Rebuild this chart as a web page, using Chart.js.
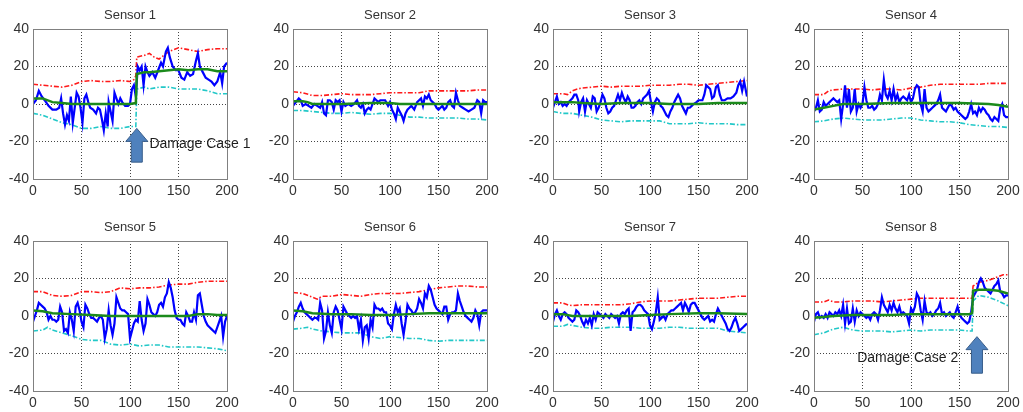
<!DOCTYPE html>
<html>
<head>
<meta charset="utf-8">
<script src="https://cdn.jsdelivr.net/npm/chart.js@4.4.0/dist/chart.umd.min.js"></script>
<style>
	html, body { margin: 0; padding: 0; background: #fff; overflow: hidden; }
	body { width: 1023px; height: 412px; position: relative; }
	.panel { position: absolute; }
</style>
</head>
<body>
<script>
// --- axes ---
const xTicks = [0, 50, 100, 150, 200];
const yTicks = [-40, -20, 0, 20, 40];
const sensorTitles = ["Sensor 1", "Sensor 2", "Sensor 3", "Sensor 4", "Sensor 5", "Sensor 6", "Sensor 7", "Sensor 8"];

// --- Sensor 1 ---
const s1Signal = [[0,0],[3,2],[6,7],[9,4],[12,2],[16,-1],[20,-3],[24,-3],[27,-2],[29,3],[31,-5],[33,-11],[35,-6],[37,-9],[39,4],[41,-10],[43,-2],[45,6],[47,4],[49,-2],[51,-10],[53,3],[55,5],[57,1],[59,-2],[62,-3],[65,-5],[67,-2],[69,-3],[71,-8],[73,-14],[75,-5],[77,-12],[78,1],[80,-4],[82,-9],[84,6],[86,3],[88,0],[90,3],[92,1],[95,-1],[98,-1],[100,0],[102,8],[104,10],[106,4],[107,12],[108,20],[110,18],[112,20],[114,10],[116,20],[118,17],[120,15],[123,17],[126,14],[129,18],[132,22],[134,20],[137,28],[139,30],[141,25],[144,20],[147,18],[150,18],[153,14],[156,13],[159,17],[162,15],[165,16],[168,23],[170,27],[172,20],[175,17],[178,14],[181,13],[184,12],[187,10],[190,12],[193,17],[195,11],[197,20],[200,22]];
const s1Upper = [[0,10.5],[10,10],[20,9.5],[30,9],[40,10],[50,12],[60,12.5],[70,12],[80,12],[90,12.5],[100,12],[104,13],[106,15],[107,25],[115,26],[120,27],[125,25],[130,24],[140,28],[150,30],[160,29],[170,28],[180,29],[190,29.5],[200,29.5]];
const s1Lower = [[0,-5],[10,-6],[20,-8],[30,-10],[40,-11],[50,-13],[60,-13],[70,-12],[80,-13],[90,-13],[100,-12],[106,-12],[107,8],[115,9],[120,8],[130,9],[140,9],[150,8],[160,8],[170,8],[180,7],[190,5.5],[200,5.5]];
const s1Mean = [[0,3],[10,3],[20,1],[30,0.5],[40,0],[60,0],[80,0],[100,0],[106,0.5],[107,16],[115,17],[120,17],[130,17.5],[140,18],[150,18.5],[160,18],[170,18.5],[180,18.5],[190,17.5],[200,17.5]];

// --- Sensor 2 ---
const s2Signal = [[0,-1],[3,1],[6,3],[8,2],[10,-1],[13,0],[16,-1],[19,-2],[22,0],[25,-1],[28,-2],[30,1],[32,-5],[34,-6],[36,2],[38,2],[40,1],[42,-3],[44,2],[46,1],[48,2],[50,-4],[52,1],[54,-1],[57,0],[60,-1],[63,0],[66,2],[68,-1],[70,-2],[72,0],[74,-5],[76,-3],[78,-2],[80,-3],[82,0],[84,3],[86,2],[88,1],[90,2],[92,2],[95,2],[98,-1],[100,1],[102,-3],[104,-5],[106,-8],[108,-2],[110,-4],[112,-6],[114,-9],[116,-5],[118,-3],[120,-2],[122,-1],[125,-3],[128,1],[130,2],[132,3],[134,-1],[136,4],[138,3],[140,5],[142,2],[144,1],[146,0],[148,-2],[150,-3],[152,-2],[154,-1],[156,-3],[158,-2],[160,1],[162,2],[164,-1],[166,-2],[168,6],[170,2],[172,-1],[175,-2],[178,-3],[181,-4],[184,-3],[187,-2],[190,2],[192,1],[194,-5],[196,2],[198,1],[200,1]];
const s2Upper = [[0,6.5],[10,6],[20,4.5],[30,4.5],[40,5],[50,5.5],[60,5],[70,5],[80,5],[90,5.5],[100,6],[110,6],[120,6],[130,6],[140,7],[150,7],[160,7],[170,7],[180,7],[190,7.5],[200,7.5]];
const s2Lower = [[0,-3.5],[10,-3.5],[20,-4],[30,-4.5],[40,-5],[50,-5],[60,-4.5],[70,-5],[80,-5.5],[90,-5],[100,-5],[110,-6],[120,-7],[130,-7],[140,-7.5],[150,-7.5],[160,-7.5],[170,-7.5],[180,-8],[190,-8],[200,-8.5]];
const s2Mean = [[0,1.5],[10,1.5],[15,1],[20,0],[50,0],[80,0.5],[100,0.5],[110,0],[150,0],[200,0]];

// --- Sensor 3 ---
const s3Signal = [[0,-2],[2,1],[4,4],[6,0],[8,1],[10,-1],[12,0],[14,-1],[16,1],[18,2],[20,3],[22,5],[24,5],[26,2],[27,-4],[29,1],[31,3],[33,-4],[35,2],[37,0],[39,-2],[41,4],[43,3],[45,-4],[47,-2],[49,1],[51,5],[53,3],[55,-2],[57,-5],[59,-4],[61,-2],[63,-1],[65,2],[67,5],[69,2],[71,6],[73,3],[75,1],[77,4],[79,2],[81,-2],[83,-2],[85,-1],[87,1],[89,2],[91,0],[93,3],[95,4],[97,5],[99,7],[101,1],[103,-4],[105,1],[107,3],[109,2],[111,-1],[113,-2],[115,-4],[117,-6],[119,-7],[121,-4],[123,-2],[125,1],[127,3],[129,5],[131,3],[133,-1],[135,-3],[137,-5],[139,-2],[141,-2],[143,-1],[145,0],[148,1],[150,2],[152,2],[154,2],[156,5],[158,10],[160,9],[162,8],[164,3],[166,4],[168,9],[170,10],[172,5],[174,2],[177,2],[180,3],[183,3],[186,4],[189,6],[191,10],[193,12],[195,7],[197,12],[200,4]];
const s3Upper = [[0,5.5],[10,5.5],[15,5],[20,7],[25,8],[30,8.5],[40,9],[50,9.5],[60,9],[70,9.5],[80,9.5],[90,9.5],[100,10],[110,10],[120,10],[130,10.5],[140,10.5],[150,10],[160,10.5],[170,11],[180,11.5],[190,12],[200,12.5]];
const s3Lower = [[0,-4],[10,-5],[20,-5],[30,-6],[40,-7],[50,-8.5],[60,-9],[70,-9.5],[80,-9],[90,-9],[100,-9],[110,-9],[120,-10.5],[130,-10.5],[140,-10.5],[150,-10],[160,-10.5],[170,-10.5],[180,-10.5],[190,-11],[200,-11]];
const s3Mean = [[0,1],[20,1],[30,0.5],[50,0],[70,0.5],[100,0.5],[120,0],[150,0],[170,0.5],[200,0.5]];

// --- Sensor 4 ---
const s4Signal = [[0,-4],[2,-2],[4,2],[6,-4],[8,-3],[10,1],[12,-1],[14,0],[16,1],[18,2],[20,3],[22,2],[24,1],[26,2],[28,-8],[30,0],[32,10],[34,-2],[36,8],[38,-4],[40,-2],[42,8],[44,-4],[46,0],[48,-2],[50,0],[52,9],[54,2],[56,-2],[58,-2],[60,-1],[62,-3],[64,-2],[66,0],[68,5],[70,2],[72,13],[74,5],[76,3],[78,7],[80,2],[82,8],[84,2],[86,5],[88,1],[90,3],[92,4],[94,3],[96,2],[98,5],[100,1],[102,3],[104,8],[106,10],[108,9],[110,0],[112,-4],[114,8],[116,-2],[118,-4],[120,-3],[122,-2],[124,-1],[126,0],[128,2],[130,5],[132,-2],[134,-3],[136,-4],[138,-2],[140,0],[142,-1],[144,-3],[146,-2],[148,-4],[150,-5],[152,-6],[154,-7],[156,-8],[158,-7],[160,-4],[162,0],[164,-5],[166,-4],[168,-6],[170,-2],[172,-4],[174,-2],[176,-3],[178,-5],[180,-6],[182,-8],[184,-9],[186,-7],[188,-8],[190,-9],[192,-2],[194,0],[196,-6],[198,-7],[200,-7]];
const s4Upper = [[0,5],[10,5],[15,7],[20,7.5],[30,8],[40,8],[50,8],[60,7.5],[70,8],[80,8],[90,7.5],[100,8.5],[110,9],[120,10],[130,10.5],[140,10.5],[150,10.5],[160,10.5],[170,10.5],[180,11],[190,11],[200,11]];
const s4Lower = [[0,-9.5],[10,-9],[20,-8],[30,-7.5],[40,-8],[50,-8.5],[60,-8.5],[70,-8.5],[80,-8],[90,-7.5],[100,-7.5],[110,-8.5],[120,-9],[130,-9.5],[140,-9.5],[150,-10],[160,-11],[170,-11.5],[180,-12],[190,-12],[200,-12.5]];
const s4Mean = [[0,-3],[10,-2],[20,-1],[30,0],[50,0],[80,0.5],[100,0.5],[150,0.5],[180,0],[190,-0.5],[200,-1.5]];

// --- Sensor 5 ---
const s5Signal = [[0,-3],[2,0],[4,3],[6,7],[8,6],[10,5],[12,4],[14,2],[16,-2],[18,0],[20,-2],[22,-2],[24,-3],[26,-2],[28,5],[30,2],[32,-8],[34,-7],[36,-9],[38,2],[40,-2],[42,-8],[44,5],[46,7],[48,3],[50,-3],[52,-6],[54,6],[56,4],[58,1],[60,-1],[62,-1],[64,-2],[66,-3],[68,-1],[70,0],[72,-2],[74,-12],[76,-7],[78,3],[80,-5],[82,-10],[84,-4],[86,10],[88,7],[90,4],[92,3],[94,3],[96,2],[98,1],[100,-12],[102,-8],[104,-4],[106,-2],[108,-3],[110,8],[112,-2],[114,-8],[116,-4],[118,9],[120,6],[122,2],[124,1],[126,0],[128,2],[130,6],[132,7],[134,5],[136,10],[138,12],[140,18],[142,15],[144,10],[146,3],[148,-1],[150,-2],[152,-2],[154,-4],[156,-5],[158,2],[160,0],[162,-3],[164,-3],[166,2],[168,-2],[170,11],[172,12],[174,6],[176,0],[178,-3],[180,-5],[182,-6],[184,-7],[186,-8],[188,-9],[190,-6],[192,-3],[194,0],[196,-11],[198,-3],[200,0]];
const s5Upper = [[0,13],[10,13],[20,11],[30,10.5],[40,11],[50,13],[60,13],[70,12.5],[80,13],[90,15],[100,14.5],[110,15],[120,15],[130,15.5],[140,16.5],[150,17],[160,17],[170,18],[180,18.5],[190,18.5],[200,18.5]];
const s5Lower = [[0,-8],[10,-7.5],[15,-6],[20,-7.5],[30,-9],[40,-10.5],[50,-12.5],[60,-13],[70,-13],[80,-15],[90,-15.5],[100,-15],[110,-16],[120,-15.5],[130,-15.5],[140,-16.5],[150,-16.5],[160,-16.5],[170,-16.5],[180,-17],[190,-17.5],[200,-18.5]];
const s5Mean = [[0,3],[10,2.5],[20,1.5],[40,1],[60,0.5],[80,0],[100,0],[130,0],[160,0],[170,1],[180,1],[190,0.5],[200,0.5]];

// --- Sensor 6 ---
const s6Signal = [[0,-3],[2,0],[4,2],[6,5],[8,7],[10,4],[12,2],[14,1],[16,0],[18,-1],[20,-2],[22,-1],[24,-1],[26,-2],[28,7],[30,3],[32,-12],[34,-8],[36,2],[38,-5],[40,-9],[42,2],[44,5],[46,3],[48,-2],[50,-7],[52,5],[54,3],[56,1],[58,0],[60,-1],[62,0],[64,-1],[66,0],[68,-7],[70,-2],[72,-13],[74,-6],[76,-5],[78,-12],[80,-2],[82,-6],[84,6],[86,4],[88,4],[90,3],[92,4],[94,2],[96,2],[98,-4],[100,-5],[102,-7],[104,1],[106,6],[108,2],[110,4],[112,-4],[114,-10],[116,-3],[118,6],[120,4],[122,3],[124,1],[126,2],[128,4],[130,9],[132,7],[134,4],[136,12],[138,10],[140,16],[142,14],[144,10],[146,6],[148,4],[150,3],[152,2],[154,1],[156,5],[158,5],[160,-2],[162,1],[164,2],[166,2],[168,3],[170,12],[172,8],[174,5],[176,2],[178,0],[180,-1],[182,-2],[184,-3],[186,-1],[188,3],[190,1],[192,-5],[194,2],[196,3],[198,3],[200,3]];
const s6Upper = [[0,12.5],[10,12],[20,10],[25,9],[30,10.5],[40,10.5],[50,11.5],[60,11],[70,10.5],[80,11.5],[90,12],[100,12],[110,12],[120,12.5],[130,13],[140,14],[150,15],[160,15.5],[170,16],[180,16],[190,15.5],[200,15.5]];
const s6Lower = [[0,-7],[10,-6.5],[15,-6],[20,-7],[30,-8],[40,-8.5],[50,-9],[60,-9],[70,-9],[80,-11],[90,-12],[100,-11],[110,-11.5],[120,-12],[130,-12],[140,-13],[150,-13.5],[160,-13],[170,-13],[180,-13],[190,-13],[200,-13]];
const s6Mean = [[0,3],[10,2.5],[20,1.5],[40,1],[60,1],[80,0.5],[100,0.5],[120,1],[140,1.5],[160,1.5],[180,1.5],[200,1.5]];

// --- Sensor 7 ---
const s7Signal = [[0,-3],[2,1],[4,3],[6,0],[8,-2],[10,1],[12,2],[14,1],[16,-1],[18,-2],[20,-3],[22,-2],[24,3],[26,2],[28,0],[30,-3],[32,-5],[34,-2],[36,-4],[38,-1],[40,-5],[42,1],[44,-2],[46,2],[48,1],[50,0],[52,-1],[54,1],[56,0],[58,-1],[60,1],[62,0],[64,-1],[66,0],[68,-4],[70,1],[72,2],[74,1],[76,3],[78,4],[80,-8],[82,2],[84,3],[86,5],[88,6],[90,6],[92,5],[94,3],[96,2],[98,1],[100,-5],[102,-7],[104,-3],[106,2],[108,10],[110,-2],[112,-1],[114,0],[116,-2],[118,1],[120,2],[122,3],[124,3],[126,4],[128,5],[130,6],[132,7],[134,3],[136,7],[138,5],[140,2],[142,6],[144,7],[146,7],[148,5],[150,3],[152,1],[154,-1],[156,-2],[158,-1],[160,0],[162,-3],[164,-2],[166,-3],[168,1],[170,4],[172,2],[174,0],[176,-2],[178,-4],[180,-7],[182,-8],[184,-6],[186,-3],[188,-1],[190,-4],[192,-8],[194,-7],[196,-6],[198,-5],[200,-4]];
const s7Upper = [[0,7],[10,7],[15,6],[20,5.5],[30,6],[40,6],[50,6],[60,6],[70,6],[80,6.5],[90,7.5],[100,8],[110,8],[120,8],[130,8.5],[140,9],[150,9.5],[160,9.5],[170,9.5],[180,10],[190,10.5],[200,10.5]];
const s7Lower = [[0,-5.5],[10,-5.5],[15,-4.5],[20,-5],[30,-6],[40,-6.5],[50,-6.5],[60,-6],[70,-6],[80,-6],[90,-6.5],[100,-6.5],[110,-6.5],[120,-6],[130,-6],[140,-6.5],[150,-6.5],[160,-6.5],[170,-6.5],[180,-8],[190,-8.5],[200,-9]];
const s7Mean = [[0,1],[10,1],[20,0],[40,0],[60,0],[80,0],[100,0.5],[120,1],[150,1.5],[170,1.5],[200,1]];

// --- Sensor 8 ---
const s8Signal = [[0,-3],[2,1],[4,2],[6,-1],[8,0],[10,-1],[12,1],[14,-1],[16,2],[18,1],[20,0],[22,2],[24,1],[26,3],[28,0],[30,6],[32,-4],[34,4],[36,-4],[38,-3],[40,4],[42,-3],[44,3],[46,0],[48,2],[50,1],[52,0],[54,-1],[56,0],[58,-2],[60,1],[62,2],[64,1],[66,-2],[68,3],[70,10],[72,6],[74,4],[76,2],[78,6],[80,3],[82,7],[84,4],[86,2],[88,5],[90,1],[92,2],[94,1],[96,0],[98,-4],[100,4],[102,2],[104,5],[106,12],[108,10],[110,3],[112,-2],[114,8],[116,2],[118,1],[120,2],[122,0],[124,1],[126,3],[128,4],[130,7],[132,1],[134,2],[136,0],[138,1],[140,2],[142,0],[144,-1],[146,2],[148,5],[150,1],[152,-1],[154,-2],[156,-3],[158,-4],[160,-3],[162,2],[164,10],[166,12],[168,14],[170,18],[172,20],[174,18],[176,15],[178,14],[180,13],[182,12],[184,14],[186,16],[188,17],[190,19],[192,13],[194,12],[196,10],[198,11],[200,11]];
const s8Upper = [[0,7.5],[10,7.5],[15,8.5],[20,7.5],[30,7.5],[40,8],[50,8],[60,8],[70,7.5],[80,8],[90,8.5],[100,9],[110,9.5],[120,9.5],[130,9.5],[140,9.5],[150,9.5],[160,9.5],[163,9.5],[164,16],[170,18],[180,19],[190,21],[195,22],[200,22]];
const s8Lower = [[0,-10],[10,-9],[20,-7],[30,-6],[40,-7.5],[50,-8],[60,-8],[70,-8],[80,-8.5],[90,-8],[100,-7.5],[110,-8],[120,-7.5],[130,-7.5],[140,-7.5],[150,-7.5],[160,-8],[163,-8],[164,8],[170,11],[180,10],[190,8],[200,5.5]];
const s8Mean = [[0,-1],[10,-0.5],[20,0],[40,0.5],[60,0.5],[80,0.5],[100,1],[120,1],[140,1],[160,1],[163,1.5],[164,13.5],[170,14],[180,14],[190,13.5],[200,12]];

const signals = [s1Signal, s2Signal, s3Signal, s4Signal, s5Signal, s6Signal, s7Signal, s8Signal];
const uppers = [s1Upper, s2Upper, s3Upper, s4Upper, s5Upper, s6Upper, s7Upper, s8Upper];
const lowers = [s1Lower, s2Lower, s3Lower, s4Lower, s5Lower, s6Lower, s7Lower, s8Lower];
const means = [s1Mean, s2Mean, s3Mean, s4Mean, s5Mean, s6Mean, s7Mean, s8Mean];

// damage annotations (sensor index, arrow x, arrow tip/tail y, label position) in data units
const damageMarks = [
	{ sensor: 0, x: 107, tip: -13, tail: -31, label: "Damage Case 1", lx: 120, ly: -21.5 },
	{ sensor: 7, x: 168, tip: -11, tail: -30.5, label: "Damage Case 2", lx: 44.5, ly: -22.6 },
];

// --- layout of the 2x4 grid ---
const PLOT_LEFTS = [33, 293, 553, 814];
const PLOT_TOPS = [29, 241];
const PLOT_W = 194, PLOT_H = 150;
const PAD_L = 32, PAD_T = 29, PAD_R = 34, PAD_B = 24;
const FONT = "'Liberation Sans', Arial, sans-serif";

const toXY = (pairs) => pairs.map((p) => ({ x: p[0], y: p[1] }));

// рамка + стрелка повреждения
const panelDecor = {
	id: "panelDecor",
	afterDatasetsDraw(chart, args, opts) {
		const { ctx, chartArea: a } = chart;
		const xs = chart.scales.x, ys = chart.scales.y;
		ctx.save();
		ctx.strokeStyle = "#808080";
		ctx.lineWidth = 1;
		ctx.strokeRect(Math.round(a.left) + 0.5, Math.round(a.top) + 0.5, Math.round(a.width), Math.round(a.height));

		const m = opts.mark;
		if (m) {
			const cx = xs.getPixelForValue(m.x);
			const tip = ys.getPixelForValue(m.tip);
			const tail = ys.getPixelForValue(m.tail);
			const hw = 11, sw = 5.5, hh = 13;
			ctx.beginPath();
			ctx.moveTo(cx, tip);
			ctx.lineTo(cx + hw, tip + hh);
			ctx.lineTo(cx + sw, tip + hh);
			ctx.lineTo(cx + sw, tail);
			ctx.lineTo(cx - sw, tail);
			ctx.lineTo(cx - sw, tip + hh);
			ctx.lineTo(cx - hw, tip + hh);
			ctx.closePath();
			ctx.fillStyle = "#4F81BD";
			ctx.fill();
			ctx.strokeStyle = "#385D8A";
			ctx.stroke();

			ctx.fillStyle = "#1e1e1e";
			ctx.font = "14px " + FONT;
			ctx.textAlign = "left";
			ctx.textBaseline = "middle";
			ctx.fillText(m.label, xs.getPixelForValue(m.lx), ys.getPixelForValue(m.ly));
		}
		ctx.restore();
	},
};

const edgeColor = (c) => {
	const v = c.tick ? c.tick.value : null;
	return v === c.scale.min || v === c.scale.max ? "rgba(0,0,0,0)" : "#444";
};

for (let i = 0; i < 8; i++) {
	const col = i % 4, row = Math.floor(i / 4);
	const div = document.createElement("div");
	div.className = "panel";
	div.style.left = PLOT_LEFTS[col] - PAD_L + "px";
	div.style.top = PLOT_TOPS[row] - PAD_T + "px";
	div.style.width = PAD_L + PLOT_W + PAD_R + "px";
	div.style.height = PAD_T + PLOT_H + PAD_B + "px";
	const canvas = document.createElement("canvas");
	div.appendChild(canvas);
	document.body.appendChild(div);

	const mark = damageMarks.find((d) => d.sensor === i) || null;
	const dash = [5, 2, 1.5, 2];

	new Chart(canvas, {
		type: "line",
		data: {
			datasets: [
				{ data: toXY(means[i]), borderColor: "#1b8a1b", borderWidth: 2.5 },
				{ data: toXY(signals[i]), borderColor: "#0000ff", borderWidth: 2.2 },
				{ data: toXY(uppers[i]), borderColor: "#ff1a1a", borderWidth: 1.6, borderDash: dash },
				{ data: toXY(lowers[i]), borderColor: "#22c8c8", borderWidth: 1.6, borderDash: dash },
			],
		},
		options: {
			responsive: true,
			maintainAspectRatio: false,
			animation: false,
			events: [],
			layout: { padding: { top: 0, right: PAD_R, bottom: 0, left: 0 } },
			elements: { point: { radius: 0 }, line: { tension: 0, fill: false } },
			plugins: {
				legend: { display: false },
				tooltip: { enabled: false },
				title: {
					display: true,
					text: sensorTitles[i],
					fullSize: false,
					color: "#333",
					font: { family: FONT, size: 13, weight: "normal", lineHeight: 1.2 },
					padding: { top: 8, bottom: 5.4 },
				},
				panelDecor: { mark: mark },
			},
			scales: {
				x: {
					type: "linear",
					min: xTicks[0],
					max: xTicks[xTicks.length - 1],
					afterBuildTicks: (s) => { s.ticks = xTicks.map((v) => ({ value: v })); },
					afterFit: (s) => { s.height = PAD_B; },
					grid: { color: edgeColor, lineWidth: 1, drawTicks: false },
					border: { display: false, dash: [1, 2] },
					ticks: { color: "#333", font: { family: FONT, size: 14 }, padding: 4, maxRotation: 0, autoSkip: false },
				},
				y: {
					min: yTicks[0],
					max: yTicks[yTicks.length - 1],
					afterBuildTicks: (s) => { s.ticks = yTicks.map((v) => ({ value: v })); },
					afterFit: (s) => { s.width = PAD_L; },
					grid: { color: edgeColor, lineWidth: 1, drawTicks: false },
					border: { display: false, dash: [1, 2] },
					ticks: { color: "#333", font: { family: FONT, size: 14 }, padding: 4, autoSkip: false },
				},
			},
		},
		plugins: [panelDecor],
	});
}
</script>
</body>
</html>
